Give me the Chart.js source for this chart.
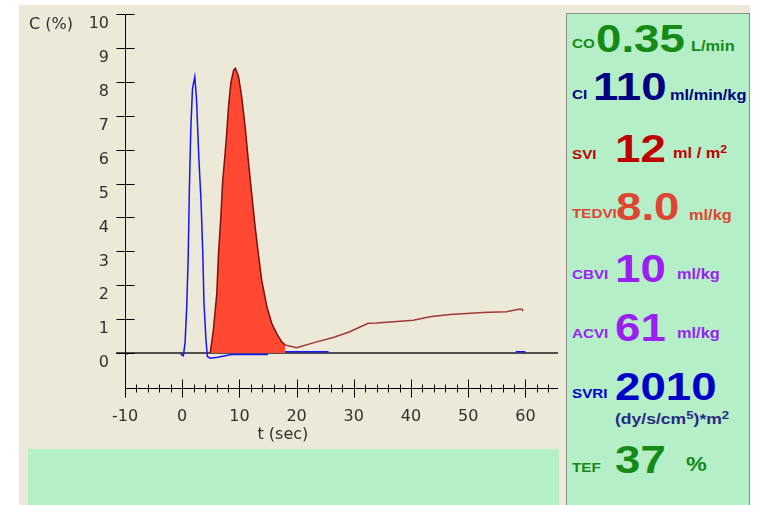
<!DOCTYPE html>
<html>
<head>
<meta charset="utf-8">
<script src="https://cdn.jsdelivr.net/npm/chart.js@4.4.1/dist/chart.umd.min.js"></script>
<style>
  body { margin:0; width:757px; height:505px; overflow:hidden; position:relative; background:#fff; font-family:"Liberation Sans", Arial, sans-serif; }
  #bg { position:absolute; left:19px; top:5px; width:731px; height:500px; background:#ECE9D8; }
  #wrap { position:absolute; left:19px; top:5px; width:547px; height:444px; }
  #note { position:absolute; left:28px; top:449px; width:531px; height:56px; background:#B4EFC8; }
  #panel { position:absolute; left:566px; top:13px; width:182px; height:500px; background:#B4EFC8; border:1px solid #8c8c8c; }
  .t { position:absolute; font-weight:bold; white-space:nowrap; line-height:1; transform:scaleX(1.17); transform-origin:0 0; }
  .t sup { font-size:0.75em; vertical-align:0.45em; line-height:0; }
</style>
</head>
<body>
<div id="bg"></div>
<div id="wrap"><canvas id="dilution-chart" width="547" height="444"></canvas></div>
<div id="note"></div>
<div id="panel"></div>

<script>
// axis ticks
const yTicks = [0, 1, 2, 3, 4, 5, 6, 7, 8, 9, 10];
const xLabels = [-10, 0, 10, 20, 30, 40, 50, 60];

// injection curve (blue), null = gap in trace
const injTime = [-9.8, -9.5, -5, -0.3, 0.2, 0.5, 0.8, 1.05, 1.25, 1.5, 1.8, 2.2, 2.5, 2.9, 3.3, 3.6, 3.8, 4.15, 4.4, 4.9, 6.2, 8.6, 15, 16.5, 18, 25.6, 40, 58.3, 60];
const injConc = [-0.02, -0.02, null, -0.03, -0.08, 0.3, 1.4, 2.85, 4.8, 6.6, 7.8, 8.15, 7.5, 5.8, 4.45, 2.95, 1.5, 0.4, -0.1, -0.15, -0.12, -0.04, -0.04, null, 0.04, 0.04, null, 0.04, 0.04];

// measured / fitted dilution curve (red)
const fitTime = [4.9, 5.45, 6.05, 6.35, 6.75, 7.05, 7.35, 7.7, 8.1, 8.5, 9.0, 9.3, 9.85, 10.4, 11.0, 11.55, 12.15, 12.75, 13.3, 13.9, 14.8, 15.65, 16.5, 17.4, 18, 20, 23.5, 26.4, 29.3, 32.5, 34, 36.3, 40.4, 43.3, 46.8, 52.6, 56.7, 58.8, 59.4, 59.6];
const fitConc = [0, 0.68, 1.76, 2.94, 4.0, 5.0, 5.6, 6.3, 7.27, 7.96, 8.35, 8.4, 8.15, 7.56, 6.68, 5.7, 4.7, 3.73, 2.94, 2.15, 1.37, 0.88, 0.58, 0.33, 0.24, 0.16, 0.33, 0.46, 0.63, 0.88, 0.89, 0.92, 0.97, 1.07, 1.14, 1.2, 1.22, 1.29, 1.29, 1.24];
const fillEnd = 18; // area under the first pass is shaded

// right hand panel
const panelNames = ['CO', 'CI', 'SVI', 'TEDVI', 'CBVI', 'ACVI', 'SVRI', 'TEF'];
const panelValues = ['0.35', '110', '12', '8.0', '10', '61', '2010', '37'];
const panelUnits = ['L/min', 'ml/min/kg', 'ml / m<sup>2</sup>', 'ml/kg', 'ml/kg', 'ml/kg', '(dy/s/cm<sup>5</sup>)*m<sup>2</sup>', '%'];
const panelColors = ['#168a16', '#000080', '#c00000', '#e04533', '#9a1ff0', '#9a1ff0', '#0000c8', '#168a16'];

// layout of the panel rows: [label baseline, value left, value baseline, unit left, unit baseline, unit size]
const rowLayout = [
  [48.5, 596, 51.7, 691, 50.7, 14],
  [99, 593, 100, 670, 100, 14],
  [159.3, 615, 161.7, 673, 158.3, 14],
  [218.3, 616, 220, 689, 220, 14],
  [279, 615, 281.7, 677, 279, 14],
  [338.3, 615, 340.7, 677, 338.3, 14],
  [398.3, 615, 400, 615, 423.3, 15],
  [471.7, 615, 473, 686, 470.5, 20]
];

function addText(html, color, size, left, baseline) {
  const d = document.createElement('div');
  d.className = 't';
  d.innerHTML = html;
  d.style.color = color;
  d.style.fontSize = size + 'px';
  d.style.left = left + 'px';
  d.style.top = (baseline - 0.8465 * size) + 'px';
  document.body.appendChild(d);
}

panelNames.forEach((name, i) => {
  const r = rowLayout[i];
  const c = panelColors[i];
  addText(name, c, 13, 572, r[0]);
  addText(panelValues[i], c, 39, r[1], r[2]);
  addText(panelUnits[i], i === 6 ? '#2a2a80' : c, r[5], r[3], r[4]);
});

// axis lines, crossing tick marks, zero line and titles
const axisDecor = {
  id: 'axisDecor',
  beforeDatasetsDraw(chart) {
    const {ctx, chartArea: a, scales: {y}} = chart;
    const y0 = y.getPixelForValue(0);
    ctx.save();
    ctx.strokeStyle = '#505050';
    ctx.lineWidth = 2;
    ctx.beginPath();
    ctx.moveTo(a.left - 9, y0);
    ctx.lineTo(a.right, y0);
    ctx.stroke();
    ctx.restore();
  },
  afterDraw(chart) {
    const {ctx, chartArea: a, scales: {x, y}} = chart;
    ctx.save();
    ctx.strokeStyle = '#000';
    ctx.lineWidth = 1;
    ctx.beginPath();
    const lx = Math.round(a.left) + 0.5;
    const by = Math.round(a.bottom) + 0.5;
    ctx.moveTo(lx, a.top); ctx.lineTo(lx, by);
    ctx.moveTo(a.left, by); ctx.lineTo(a.right, by);
    yTicks.forEach(v => {
      const p = Math.round(y.getPixelForValue(v)) + 0.5;
      ctx.moveTo(lx - 9, p); ctx.lineTo(lx + 9, p);
    });
    for (let v = -10; v <= x.max; v += 2) {
      const p = Math.round(x.getPixelForValue(v)) + 0.5;
      const len = v % 10 === 0 ? 9 : 4;
      ctx.moveTo(p, by - len); ctx.lineTo(p, by + len);
    }
    ctx.stroke();

    ctx.fillStyle = '#303030';
    ctx.font = '16px "DejaVu Sans"';
    ctx.textBaseline = 'middle';
    ctx.textAlign = 'left';
    ctx.fillText('C (%)', a.left - 96, y.getPixelForValue(10) + 11);
    ctx.textAlign = 'center';
    ctx.fillText('t (sec)', x.getPixelForValue(17.6), a.bottom + 47);
    ctx.restore();
  }
};

const injData = injTime.map((t, i) => ({x: t, y: injConc[i]}));
const fitData = fitTime.map((t, i) => ({x: t, y: fitConc[i]}));

new Chart(document.querySelector('#dilution-chart').getContext('2d'), {
  type: 'line',
  data: {
    datasets: [
      {
        label: 'injection',
        data: injData,
        borderColor: '#1414ff',
        borderWidth: 1.5,
        pointRadius: 0,
        spanGaps: false,
        fill: false,
        order: 0
      },
      {
        label: 'first pass',
        data: fitData.filter(p => p.x <= fillEnd),
        borderColor: '#7a1010',
        backgroundColor: '#ff4832',
        borderWidth: 1.5,
        pointRadius: 0,
        fill: 'origin',
        order: 1
      },
      {
        label: 'recirculation',
        data: fitData.filter(p => p.x >= fillEnd),
        borderColor: '#a03838',
        borderWidth: 1.5,
        pointRadius: 0,
        fill: false,
        order: 2
      }
    ]
  },
  options: {
    responsive: false,
    animation: false,
    layout: { padding: { top: 9, right: 8, left: 0, bottom: 0 } },
    plugins: { legend: { display: false }, tooltip: { enabled: false } },
    scales: {
      x: {
        type: 'linear',
        min: -10,
        max: 65.7,
        grid: { display: false, drawTicks: false },
        border: { display: false },
        afterBuildTicks: s => { s.ticks = xLabels.map(v => ({value: v})); },
        ticks: { padding: 19, color: '#303030', font: { family: 'DejaVu Sans', size: 16 }, maxRotation: 0, autoSkip: false },
        afterFit: s => { s.height = 61; s.paddingLeft = 0; s.paddingRight = 0; }
      },
      y: {
        type: 'linear',
        min: -1.03,
        max: 10,
        grid: { display: false, drawTicks: false },
        border: { display: false },
        afterBuildTicks: s => { s.ticks = yTicks.map(v => ({value: v})); },
        ticks: { padding: 16, labelOffset: 10, color: '#303030', font: { family: 'DejaVu Sans', size: 16 }, autoSkip: false },
        afterFit: s => { s.width = 106; s.paddingTop = 0; s.paddingBottom = 0; }
      }
    }
  },
  plugins: [axisDecor]
});
</script>
</body>
</html>
